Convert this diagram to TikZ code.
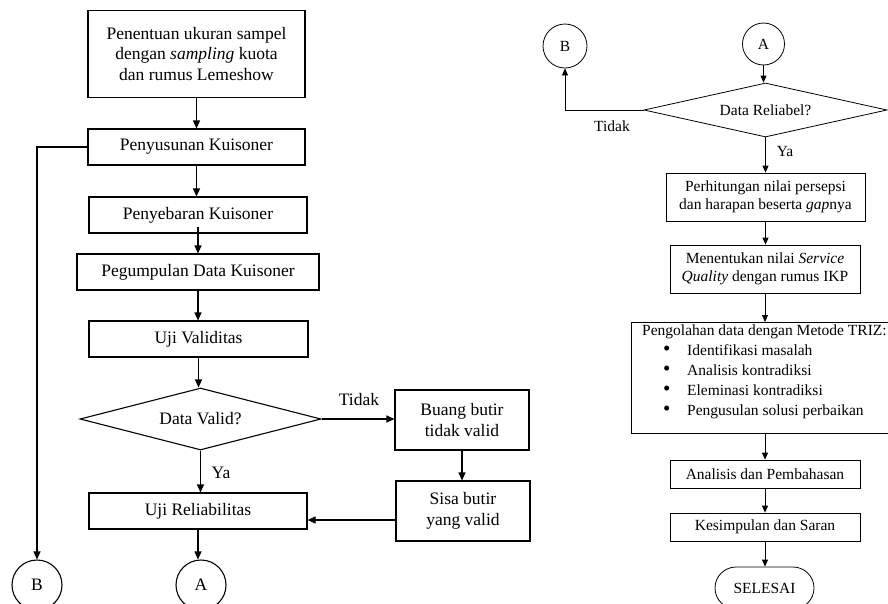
\documentclass[tikz,border=0pt]{standalone}
\usepackage{fontspec}
\usepackage{graphicx}
\setmainfont{Liberation Serif}
\usetikzlibrary{arrows.meta,shapes.geometric,shapes.misc}
\newcommand\leftfs{\fontsize{17.5}{20.5}\selectfont}
\newcommand\rightfs{\fontsize{15.5}{17.5}\selectfont}
\newcommand\trizbul{\hspace*{21pt}\makebox[24pt][l]{\scalebox{1.35}{\textbullet}}}
\begin{document}
\begin{tikzpicture}[x=1pt,y=-1pt,
  lbox/.style={draw, line width=1.1pt, inner sep=0pt, align=center, font=\leftfs},
  rbox/.style={draw, line width=0.8pt, inner sep=0pt, align=center, font=\rightfs},
  ldia/.style={draw, diamond, line width=1.1pt, inner sep=0pt, font=\leftfs},
  rdia/.style={draw, diamond, line width=0.8pt, inner sep=0pt, font=\rightfs},
  lcirc/.style={draw, circle, line width=1.1pt, inner sep=0pt, minimum size=50pt, font=\leftfs},
  rcirc/.style={draw, circle, line width=0.8pt, inner sep=0pt, font=\rightfs},
  larr/.style={line width=1.1pt, -{Triangle[length=8pt,width=7pt]}},
  rarr/.style={line width=0.8pt, -{Triangle[length=7pt,width=6pt]}},
  llab/.style={font=\leftfs, inner sep=0pt},
  rlab/.style={font=\rightfs, inner sep=0pt}]
\useasboundingbox (0,0) rectangle (888,603);

% ---------- left panel ----------
\node[lbox, minimum width=217pt, minimum height=87pt] (b1) at (196.5,54)
  {Penentuan ukuran sampel\\dengan \textit{sampling} kuota\\dan rumus Lemeshow};
\node[lbox, minimum width=217pt, minimum height=36pt] (b2) at (196.5,147) {Penyusunan Kuisoner};
\node[lbox, minimum width=218pt, minimum height=36pt] (b3) at (198,215) {Penyebaran Kuisoner};
\node[lbox, minimum width=242pt, minimum height=36pt] (b4) at (198,272) {Pegumpulan Data Kuisoner};
\node[lbox, minimum width=219pt, minimum height=36pt] (b5) at (198.5,339) {Uji Validitas};
\node[ldia, aspect=3.9, minimum width=241pt, minimum height=62pt] (d1) at (200.5,419) {Data Valid?};
\node[lbox, minimum width=134pt, minimum height=60pt] (bb) at (462,420) {Buang butir\\tidak valid};
\node[lbox, minimum width=134pt, minimum height=60pt] (sb) at (463,511) {Sisa butir\\yang valid};
\node[lbox, minimum width=218pt, minimum height=36pt] (b6) at (198,511) {Uji Reliabilitas};
\node[lcirc] (cA) at (201,585) {A};
\node[lcirc] (cB) at (37,585) {B};
\node[llab] (t1) at (359,400) {Tidak};
\node[llab] (y1) at (221,473) {Ya};

\draw[larr] (b1.south) -- (b1.south |- b2.north);
\draw[larr] (b2.west) -| (cB.north);
\draw[larr] (b2.south) -- (b2.south |- b3.north);
\draw[larr] ([yshift=7pt]b3.south) -- (b3.south |- b4.north);
\draw[larr] (b4.south) -- (b4.south |- b5.north);
\draw[larr] (b5.south) -- (b5.south |- d1.north);
\draw[larr] (d1.east) -- (d1.east -| bb.west);
\draw[larr] (d1.south) -- (d1.south |- b6.north);
\draw[larr] (bb.south) -- (bb.south |- sb.north);
\draw[larr] ([yshift=-9pt]sb.west) -- ([yshift=-9pt]sb.west -| b6.east);
\draw[larr] (b6.south) -- (b6.south |- cA.north);

% ---------- right panel ----------
\node[rcirc, minimum size=44pt] (rB) at (565,46) {B};
\node[rcirc, minimum size=42pt] (rA) at (763.5,44) {A};
\node[rdia, aspect=4.5, minimum width=243pt, minimum height=54pt] (d2) at (765.5,110) {Data Reliabel?};
\node[rbox, minimum width=199pt, minimum height=48pt] (p1) at (765.5,197)
  {Perhitungan nilai persepsi\\dan harapan beserta \textit{gap}nya};
\node[rbox, minimum width=190pt, minimum height=48pt] (p2) at (765,269)
  {Menentukan nilai \textit{Service}\\\textit{Quality} dengan rumus IKP};
\node[draw, line width=0.8pt, anchor=north west, inner sep=0pt,
  minimum width=264pt, minimum height=111pt] (triz) at (631,322) {};
\node[anchor=north west, inner sep=0pt, align=left,
  font=\fontsize{15.5}{20}\selectfont] (trizt) at (642,325)
  {Pengolahan data dengan Metode TRIZ:\\
   \trizbul Identifikasi masalah\\
   \trizbul Analisis kontradiksi\\
   \trizbul Eleminasi kontradiksi\\
   \trizbul Pengusulan solusi perbaikan};
\node[rbox, minimum width=190pt, minimum height=28pt] (p3) at (765,474) {Analisis dan Pembahasan};
\node[rbox, minimum width=190pt, minimum height=28pt] (p4) at (765,527) {Kesimpulan dan Saran};
\node[draw, rounded rectangle, line width=0.8pt, inner sep=0pt, minimum width=99pt,
  minimum height=42pt, font=\rightfs] (sel) at (764.5,588) {SELESAI};
\node[rlab] (t2) at (612,126) {Tidak};
\node[rlab] (y2) at (785,151) {Ya};

\draw[rarr] (rA.south) -- (rA.south |- d2.north);
\draw[rarr] (d2.west) -| (rB.south);
\draw[rarr] (d2.south) -- (d2.south |- p1.north);
\draw[rarr] (p1.south) -- (p1.south |- p2.north);
\draw[rarr] (p2.south) -- (p2.south |- triz.north);
\draw[rarr] (p2.south |- triz.south) -- (p3.north);
\draw[rarr] (p3.south) -- (p4.north);
\draw[rarr] (p4.south) -- (p4.south |- sel.north);
\end{tikzpicture}
\end{document}
